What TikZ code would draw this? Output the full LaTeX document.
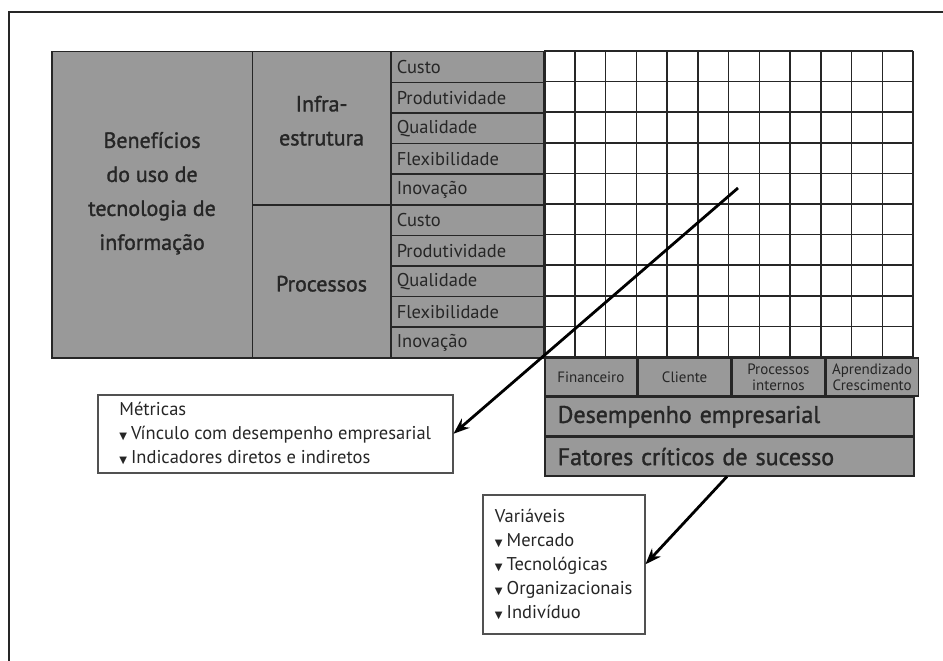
\documentclass[tikz,border=0pt]{standalone}
\usepackage{fontspec}
\setmainfont{PT Sans}
\newfontfamily\semib[FakeBold=1.4]{PT Sans}
\newfontfamily\symb{DejaVu Sans}
\usepackage{tikz}
\usetikzlibrary{positioning,arrows.meta,calc}
\definecolor{cellgray}{HTML}{999999}
\definecolor{ink}{HTML}{262626}
\newcommand{\tribul}{{\symb\fontsize{10}{10}\selectfont ▼}\hspace{4pt}}

\begin{document}
\begin{tikzpicture}[x=1pt,y=-1pt,
	cell/.style={draw=ink, line width=1.5pt, fill=cellgray, inner sep=0pt, anchor=north west, text=ink},
	item/.style={cell, minimum width=154pt, minimum height=30.6pt, inner xsep=6pt, text width=142pt, align=left, font=\fontsize{18.5}{20}\selectfont},
	head/.style={text=ink, align=center, font=\semib\fontsize{22}{34}\selectfont},
	persp/.style={cell, minimum width=92.25pt, minimum height=38.4pt, align=center, font=\fontsize{15}{16}\selectfont},
	bar/.style={cell, minimum width=369pt, minimum height=38.3pt, inner xsep=13pt, text width=343pt, align=left, font=\semib\fontsize{24}{26}\selectfont},
	note/.style={draw=ink!80, line width=1.5pt, fill=white, anchor=north west, inner xsep=10pt, align=left, text=ink, font=\fontsize{18.5}{24}\selectfont},
	gridline/.style={draw=ink, line width=1.5pt},
	arr/.style={-{Stealth[length=16pt,width=12pt]}, line width=2.8pt, draw=black}]
	\useasboundingbox (0,0) rectangle (943,661);
	\draw[line width=1.8pt, draw=ink] (8.6,661) -- (8.6,11.7) -- (943,11.7);
	\node[cell, minimum width=200.6pt, minimum height=306pt] (benef) at (51,51) {};
	\node[cell, minimum width=138.4pt, minimum height=153pt] (infra) at (251.6,51) {};
	\node[cell, minimum width=138.4pt, minimum height=153pt] (proc) at (251.6,204) {};
	\node[head] (benef-t) at ([yshift=11.5pt]benef.center) {Benefícios\\do uso de\\tecnologia de\\informação};
	\node[head] (infra-t) at ([yshift=7.5pt]infra.center) {Infra-\\estrutura};
	\node[head] (proc-t) at ([yshift=-2.5pt]proc.center) {Processos};
	\foreach \t [count=\i from 0] in {Custo,Produtividade,Qualidade,Flexibilidade,Inovação,Custo,Produtividade,Qualidade,Flexibilidade,Inovação}
		\node[item] (lab-\i) at (390,{51+30.6*\i}) {\t};
	\foreach \c in {0,...,12}
		\draw[gridline] ({544+30.75*\c},51) -- ({544+30.75*\c},357);
	\foreach \r in {0,...,10}
		\draw[gridline] (544,{51+30.6*\r}) -- (913,{51+30.6*\r});
	\node[persp] (fin) at (544,357) {Financeiro};
	\node[persp, right=0pt of fin] (cli) {Cliente};
	\node[persp, right=0pt of cli] (pint) {Processos\\internos};
	\node[persp, right=0pt of pint] (apr) {Aprendizado\\Crescimento};
	\node[bar] (desemp) at (fin.south west) {Desempenho empresarial};
	\node[bar] (fatores) at (desemp.south west) {Fatores críticos de sucesso};
	\node[note, minimum width=355pt, minimum height=78pt] (metr) at (97,394)
		{Métricas\\\tribul Vínculo com desempenho empresarial\\\tribul Indicadores diretos e indiretos};
	\node[note, minimum width=162pt, minimum height=139pt] (vars) at (482,494)
		{Variáveis\\\tribul Mercado\\\tribul Tecnológicas\\\tribul Organizacionais\\\tribul Indivíduo};
	\coordinate (from-grid) at (738,188);
	\coordinate (from-fat) at ([xshift=183pt]fatores.south west);
	\draw[arr] (from-grid) -- (metr.east);
	\draw[arr] (from-fat) -- (vars.east);
\end{tikzpicture}
\end{document}
